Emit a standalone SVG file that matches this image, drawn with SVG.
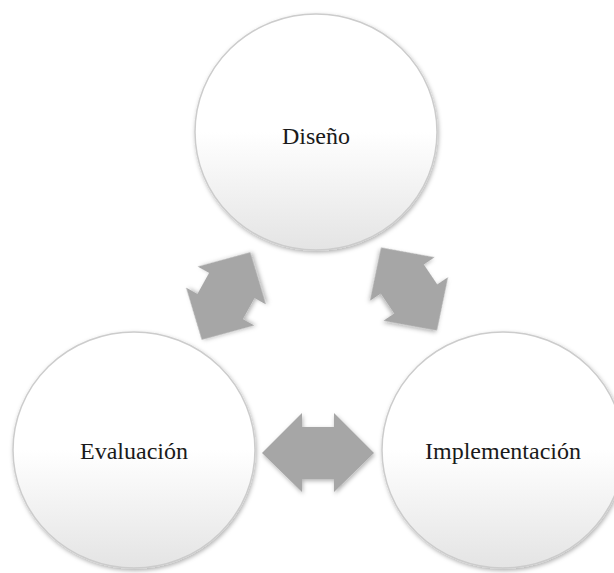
<svg xmlns="http://www.w3.org/2000/svg" width="614" height="573" viewBox="0 0 614 573">
<defs>
<linearGradient id="cg" x1="0" y1="0" x2="0" y2="1">
<stop offset="0" stop-color="#ffffff"/>
<stop offset="0.5" stop-color="#ffffff"/>
<stop offset="1" stop-color="#e4e4e4"/>
</linearGradient>
<filter id="sh" x="-20%" y="-20%" width="140%" height="140%">
<feDropShadow dx="1" dy="2" stdDeviation="2" flood-color="#000" flood-opacity="0.3"/>
</filter>
<path id="da" d="M-50,0 L-12,-39 L-12,-26 L12,-26 L12,-39 L50,0 L12,39 L12,26 L-12,26 L-12,39 Z"/>
</defs>
<style>
.node ellipse{fill:url(#cg);stroke:#cccccc;stroke-width:1.5;filter:url(#sh)}
.node text{font-family:"Liberation Serif","Times New Roman",serif;font-size:24px;fill:#1a1a1a;text-anchor:middle}
.arr{fill:#a6a6a6;filter:url(#sh)}
</style>
<rect width="614" height="573" fill="#ffffff"/>
<g id="node-diseno" class="node">
<ellipse cx="316" cy="132" rx="121" ry="118"/>
<text x="316" y="144">Diseño</text>
</g>
<g id="node-evaluacion" class="node">
<ellipse cx="134" cy="450" rx="121" ry="118"/>
<text x="134" y="459">Evaluación</text>
</g>
<g id="node-implementacion" class="node">
<ellipse cx="503" cy="450" rx="121" ry="118"/>
<text x="503" y="459">Implementación</text>
</g>
<g id="connectors">
<use href="#da" class="arr" transform="translate(226,296) rotate(-61)"/>
<use href="#da" class="arr" transform="translate(409,289) rotate(56)"/>
<path class="arr" d="M262,453 L302,413 L302,427 L334,427 L334,413 L374,453 L334,492 L334,479 L302,479 L302,492 Z"/>
</g>
</svg>
